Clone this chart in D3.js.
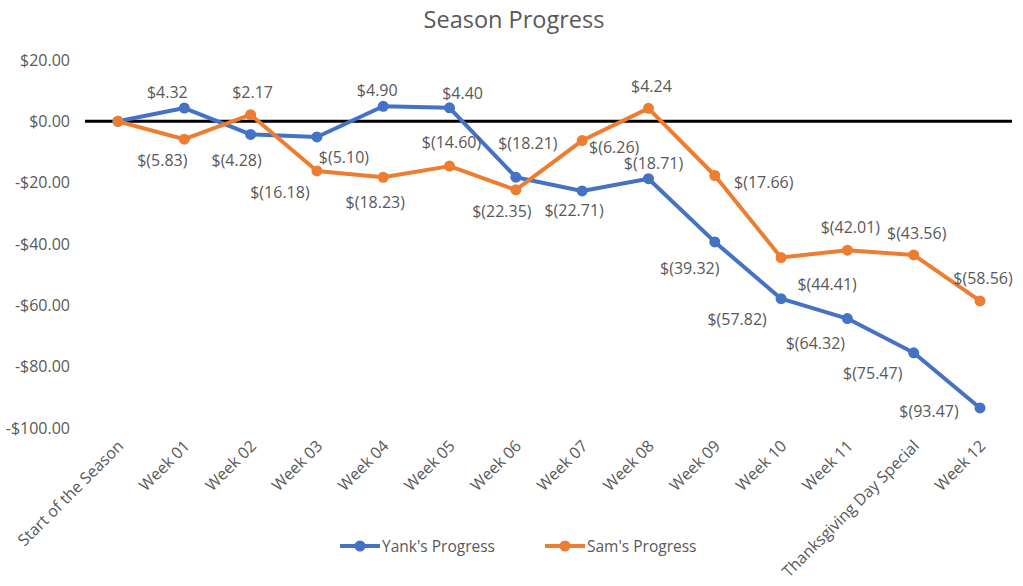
<!DOCTYPE html>
<html lang="en">
<head>
    <meta charset="utf-8">
    <title>Season Progress</title>
    <script src="https://d3js.org/d3.v7.min.js"></script>
    <style>
        body { margin: 0; background: #fff; }
        text { font-family: "Open Sans", sans-serif; fill: #595959; }
    </style>
</head>
<body>
    <svg width="1023" height="586" id="mainsvg"></svg>

    <script>
        // data
        const weeks = ['Start of the Season', 'Week 01', 'Week 02', 'Week 03', 'Week 04', 'Week 05', 'Week 06',
            'Week 07', 'Week 08', 'Week 09', 'Week 10', 'Week 11', 'Thanksgiving Day Special', 'Week 12']
        const yankValues = [0, 4.32, -4.28, -5.10, 4.90, 4.40, -18.21, -22.71, -18.71, -39.32, -57.82, -64.32, -75.47, -93.47]
        const samValues = [0, -5.83, 2.17, -16.18, -18.23, -14.60, -22.35, -6.26, 4.24, -17.66, -44.41, -42.01, -43.56, -58.56]
        const yTicks = [20, 0, -20, -40, -60, -80, -100]
        const seriesNames = ["Yank's Progress", "Sam's Progress"]
        const seriesColors = ['#4472C4', '#ED7D31']

        // label nudges (px from the point), no label on the first point
        const yankNudge = [null, [-17, -16], [-14, 26], [27, 20], [-6, -16], [13, -15], [12, -34], [-8, 19],
            [5, -16], [-25, 26], [-44, 20], [-32, 24], [-41, 20], [-51, 3]]
        const samNudge = [null, [-22, 21], [2, -23], [-37, 21], [-8, 25], [2, -24], [-14, 21], [32, 6],
            [3, -22], [49, 7], [46, 26], [3, -23], [3, -22], [3, -23]]

        const svg = d3.select('#mainsvg')

        const xScale = d3.scalePoint().domain(weeks).range([118, 980])
        const yScale = d3.scaleLinear().domain([-100, 20]).range([428, 60])

        const money = v => v < 0 ? `$(${Math.abs(v).toFixed(2)})` : `$${v.toFixed(2)}`
        const tickFmt = v => (v < 0 ? '-$' : '$') + Math.abs(v).toFixed(2)
        const fs = '16px'

        // title
        svg.append('text').text('Season Progress')
            .attr('x', 514).attr('y', 28)
            .attr('text-anchor', 'middle')
            .attr('font-size', '23.5px')

        // y axis labels
        const yAxis = d3.axisLeft(yScale).tickValues(yTicks).tickFormat(tickFmt).tickSize(0).tickPadding(0)
        const yg = svg.append('g').attr('transform', 'translate(70,0)').call(yAxis)
        yg.select('.domain').remove()
        yg.selectAll('.tick text').attr('font-size', fs).attr('fill', '#595959')
            .style('font-family', '"Open Sans", sans-serif')

        // zero line
        svg.append('line')
            .attr('x1', 85).attr('x2', 1012)
            .attr('y1', yScale(0)).attr('y2', yScale(0))
            .attr('stroke', '#000').attr('stroke-width', 3)

        // x axis labels, rotated
        const xAxis = d3.axisBottom(xScale).tickSize(0).tickPadding(0)
        const xg = svg.append('g').attr('transform', 'translate(0,447)').call(xAxis)
        xg.select('.domain').remove()
        xg.selectAll('.tick text')
            .attr('font-size', fs).attr('fill', '#595959')
            .style('font-family', '"Open Sans", sans-serif')
            .attr('text-anchor', 'end')
            .attr('dy', 0).attr('y', 0)
            .attr('transform', 'translate(6,0) rotate(-45)')

        const series = [
            { name: seriesNames[0], values: yankValues, nudge: yankNudge, color: seriesColors[0] },
            { name: seriesNames[1], values: samValues, nudge: samNudge, color: seriesColors[1] }
        ]

        const line = d3.line().x((d, i) => xScale(weeks[i])).y(d => yScale(d))

        series.forEach(s => {
            svg.append('path').datum(s.values)
                .attr('d', line)
                .attr('fill', 'none')
                .attr('stroke', s.color)
                .attr('stroke-width', 4)
                .attr('stroke-linejoin', 'round')
            svg.append('g').selectAll('circle').data(s.values).join('circle')
                .attr('cx', (d, i) => xScale(weeks[i]))
                .attr('cy', d => yScale(d))
                .attr('r', 5.5)
                .attr('fill', s.color)
        })

        series.forEach(s => {
            const pts = s.values.map((v, i) => ({ v, week: weeks[i], nudge: s.nudge[i] }))
                .filter(d => d.nudge)
            svg.append('g').selectAll('text').data(pts).join('text')
                .text(d => money(d.v))
                .attr('x', d => xScale(d.week) + d.nudge[0])
                .attr('y', d => yScale(d.v) + d.nudge[1])
                .attr('text-anchor', 'middle')
                .attr('dominant-baseline', 'central')
                .attr('font-size', fs)
        })

        // legend
        const legendX = [340, 545]
        series.forEach((s, i) => {
            const g = svg.append('g').attr('transform', `translate(${legendX[i]},546)`)
            g.append('line').attr('x1', 0).attr('x2', 40).attr('y1', 0).attr('y2', 0)
                .attr('stroke', s.color).attr('stroke-width', 4)
            g.append('circle').attr('cx', 20).attr('cy', 0).attr('r', 5.5).attr('fill', s.color)
            g.append('text').text(s.name).attr('x', 42).attr('y', 0)
                .attr('dominant-baseline', 'central').attr('font-size', '15.5px')
        })
    </script>
</body>
</html>
